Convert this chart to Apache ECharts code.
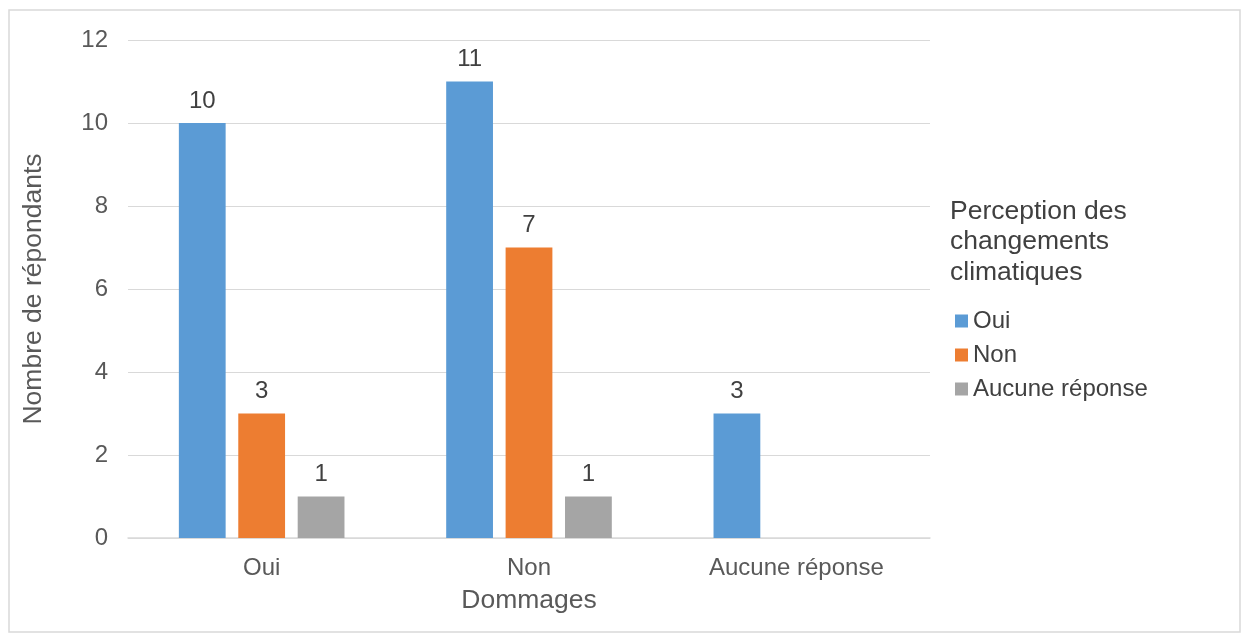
<!DOCTYPE html>
<html><head><meta charset="utf-8">
<script src="https://cdn.jsdelivr.net/npm/echarts@6/dist/echarts.min.js"></script>
<style>html,body{margin:0;padding:0;background:#fff}#c{width:1249px;height:642px}</style>
</head><body><div id="c"></div>
<script>
const categories = ['Oui', 'Non', 'Aucune réponse'];
const seriesNames = ['Oui', 'Non', 'Aucune réponse'];
const valuesOui = [10, 11, 3];
const valuesNon = [3, 7, null];
const valuesAucune = [1, 1, null];
const colors = ['#5B9BD5', '#ED7D31', '#A5A5A5'];
const yTicks = [0, 2, 4, 6, 8, 10, 12];

const chart = echarts.init(document.getElementById('c'));
const font = 'Liberation Sans, Arial, sans-serif';
const mk = (name, data, color) => ({
  name, type: 'bar', data, barWidth: '17.5%', barGap: '27%',
  itemStyle: { color },
  label: { show: true, position: 'top', distance: 10, color: '#404040', fontSize: 24, fontFamily: font }
});
chart.setOption({
  animation: false,
  textStyle: { fontFamily: font },
  graphic: [{ type: 'rect', shape: { x: 9, y: 10, width: 1231, height: 622 }, style: { fill: 'none', stroke: '#d9d9d9', lineWidth: 1.5 } }],
  title: {
    text: 'Perception des\nchangements\nclimatiques',
    left: 945, top: 191,
    textStyle: { fontSize: 26.5, fontWeight: 'normal', color: '#404040', lineHeight: 30.5, fontFamily: font }
  },
  legend: {
    orient: 'vertical', left: 950, top: 304, itemGap: 10,
    itemWidth: 13, itemHeight: 13, icon: 'rect',
    data: seriesNames,
    textStyle: { fontSize: 24, color: '#404040', padding: [0, 0, 0, 0], fontFamily: font }
  },
  grid: { left: 128, right: 319, top: 40, bottom: 104 },
  xAxis: {
    type: 'category', data: categories,
    name: 'Dommages', nameLocation: 'middle', nameGap: 49,
    nameTextStyle: { fontSize: 26.5, color: '#595959' },
    axisLine: { lineStyle: { color: '#d9d9d9', width: 1.5 } },
    axisTick: { show: false },
    axisLabel: { fontSize: 24, color: '#595959', margin: 18 }
  },
  yAxis: {
    type: 'value', min: 0, max: 12, interval: 2,
    name: 'Nombre de répondants', nameLocation: 'middle', nameGap: 81,
    nameTextStyle: { fontSize: 26.5, color: '#595959' },
    axisLine: { show: false }, axisTick: { show: false },
    axisLabel: { fontSize: 24, color: '#595959', margin: 20,
      formatter: v => yTicks.includes(v) ? String(v) : '' },
    splitLine: { lineStyle: { color: '#d9d9d9', width: 1 } }
  },
  series: [mk(seriesNames[0], valuesOui, colors[0]), mk(seriesNames[1], valuesNon, colors[1]), mk(seriesNames[2], valuesAucune, colors[2])]
});
</script></body></html>
